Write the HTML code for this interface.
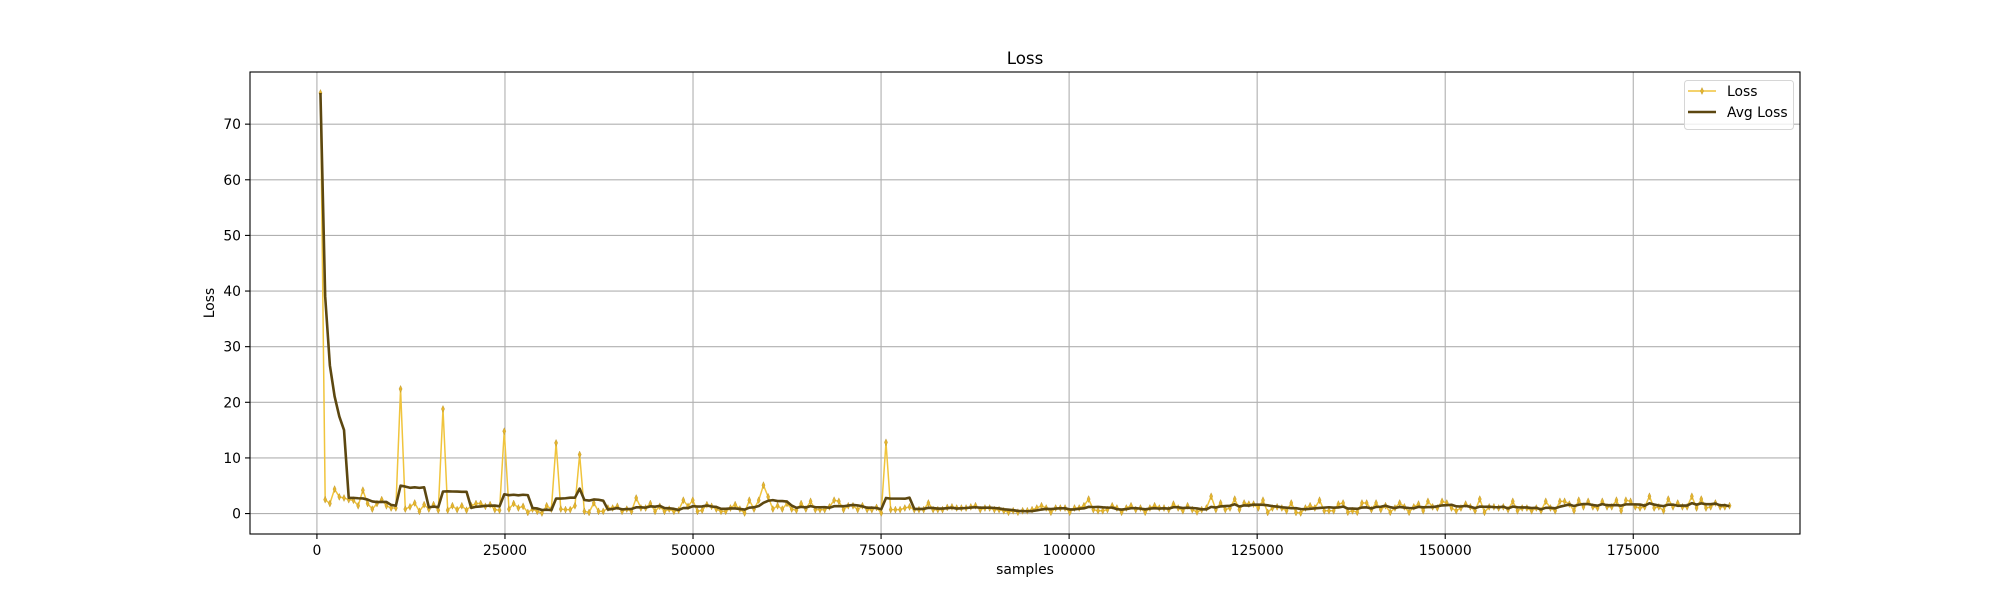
<!DOCTYPE html>
<html><head><meta charset="utf-8"><style>
html,body{margin:0;padding:0;background:#fff;}
svg{display:block;font-family:"DejaVu Sans","Liberation Sans",sans-serif;}
</style></head><body>
<svg id="chart" width="2000" height="600" viewBox="0 0 2000 600" xmlns="http://www.w3.org/2000/svg">
<rect width="2000" height="600" fill="#fff"/>
<g id="grid"></g>
<g id="series"></g>
<g id="axes"></g>
<text x="1025" y="64" font-size="16.7" text-anchor="middle" fill="#000">Loss</text>
<text x="1025" y="574" font-size="13.9" text-anchor="middle" fill="#000">samples</text>
<text transform="translate(214,303) rotate(-90)" font-size="13.9" text-anchor="middle" fill="#000">Loss</text>
<g>
<rect x="1684.5" y="80.5" width="109" height="49" rx="3" fill="#fff" fill-opacity="0.8" stroke="#d6d6d6" stroke-width="1"/>
<g>
<line x1="1688" y1="91" x2="1716" y2="91" stroke="#f0c43c" stroke-width="1.5"/>
<path d="M1702,87.5 L1703.6,91 L1702,94.5 L1700.4,91 Z" fill="#e6b52c" stroke="#b8922a" stroke-width="0.4"/>
<text x="1727" y="96" font-size="13.9" fill="#000">Loss</text>
</g>
<g>
<line x1="1688" y1="112" x2="1716" y2="112" stroke="#5c4710" stroke-width="2.5"/>
<text x="1727" y="117" font-size="13.9" fill="#000">Avg Loss</text>
</g>
</g>
</svg>
<script>
const loss = [75.6,2.5,1.8,4.4,3.0,2.8,2.5,2.4,1.4,4.2,1.8,0.8,1.8,2.5,1.4,1.0,1.0,22.4,0.8,1.2,1.9,0.4,1.6,0.8,1.6,0.6,18.8,0.6,1.4,0.7,1.4,0.6,1.4,1.8,1.8,1.3,1.6,0.7,0.6,14.8,0.8,1.8,1.0,1.3,0.2,0.8,0.4,0.1,1.4,0.8,12.7,0.8,0.7,0.7,1.4,10.6,0.4,0.2,1.9,0.4,0.4,1.0,1.0,1.3,0.4,0.8,0.4,2.8,1.0,1.0,1.8,0.4,1.3,0.4,0.8,0.4,0.6,2.4,1.3,2.4,0.4,0.6,1.6,1.3,0.8,0.4,0.4,1.0,1.6,0.8,0.1,2.4,0.8,2.4,5.1,3.0,0.8,1.4,0.8,1.8,0.8,0.6,1.8,0.8,
2.2,0.7,0.7,0.7,1.2,2.4,2.2,0.7,1.4,1.4,0.7,1.4,0.7,0.7,1.1,0.1,12.8,
0.7,0.7,0.7,1.0,1.2,0.7,0.7,0.7,1.9,0.7,0.7,0.7,1.1,1.2,1.0,1.0,1.0,1.2,1.4,0.7,1.0,1.0,0.7,0.7,0.5,0.24,0.5,0.24,0.5,0.5,0.7,1.0,1.4,1.0,0.24,1.0,1.0,1.0,0.24,1.0,1.0,1.4,2.6,0.7,0.5,0.5,0.7,1.4,1.0,0.24,1.0,1.4,0.7,1.0,0.24,1.0,1.4,1.0,1.0,0.7,1.7,1.0,0.5,1.4,0.7,0.3,0.7,1.0,3.1,0.7,1.9,0.7,1.0,2.6,0.7,1.9,1.7,1.7,1.0,2.4,0.2,1.0,1.2,1.0,0.5,1.9,0.2,
0.1,1.0,1.4,1.0,2.4,0.5,0.5,0.5,1.7,1.9,0.24,0.5,0.24,1.9,1.9,0.7,1.9,0.7,1.4,0.24,1.0,1.9,1.2,0.24,1.2,1.7,0.5,2.2,1.2,1.0,2.2,1.9,1.0,0.5,1.0,1.7,1.2,0.5,2.6,0.24,1.2,1.2,1.0,1.2,0.7,2.2,0.5,1.0,1.0,0.5,1.0,0.5,2.2,1.0,0.5,2.2,2.2,1.7,0.5,2.4,1.2,2.2,1.2,1.0,2.2,1.2,1.2,2.4,0.5,2.4,2.2,1.2,1.0,1.2,3.1,1.0,1.2,0.5,2.6,1.2,1.9,1.2,1.2,3.1,1.0,2.6,1.0,1.2,1.9,1.2,1.2,1.4];
const firstSample = 470;
const lastSample = 187800;
const avgWindow = 6;
const xTicks = [0,25000,50000,75000,100000,125000,150000,175000];
const yTicks = [0,10,20,30,40,50,60,70];

const NS = 'http://www.w3.org/2000/svg';
const L = 250, R = 1800, T = 72, B = 534;
const samples = loss.map((_, i) => firstSample + i * (lastSample - firstSample) / (loss.length - 1));
const avg = loss.map((_, i) => {
  const s = Math.max(0, i - avgWindow + 1);
  const w = loss.slice(s, i + 1);
  return w.reduce((a, b) => a + b, 0) / w.length;
});
const xmin0 = Math.min(...samples), xmax0 = Math.max(...samples);
const xm = (xmax0 - xmin0) * 0.05;
const xMin = xmin0 - xm, xMax = xmax0 + xm;
const all = loss.concat(avg);
const ymin0 = Math.min(...all), ymax0 = Math.max(...all);
const ym = (ymax0 - ymin0) * 0.05;
const yMin = ymin0 - ym, yMax = ymax0 + ym;
const sx = v => L + (v - xMin) / (xMax - xMin) * (R - L);
const sy = v => B - (v - yMin) / (yMax - yMin) * (B - T);

function mk(tag, attrs, parent) {
  const el = document.createElementNS(NS, tag);
  for (const k in attrs) el.setAttribute(k, attrs[k]);
  parent.appendChild(el);
  return el;
}
const grid = document.getElementById('grid');
const axes = document.getElementById('axes');
const series = document.getElementById('series');

xTicks.forEach(t => {
  const x = sx(t);
  const g = mk('line', {x1: x, x2: x, y1: T, y2: B, stroke: '#b0b0b0', 'stroke-width': 1.1}, grid);
  
  
  const tk = mk('line', {x1: x, x2: x, y1: B, y2: B + 5, stroke: '#000', 'stroke-width': 1.1}, axes);
  
  
  const tx = mk('text', {x: x, y: B + 21, 'font-size': 13.9, 'text-anchor': 'middle', fill: '#000'}, axes);
  tx.textContent = String(t);
  
  
});
yTicks.forEach(t => {
  const y = sy(t);
  const g = mk('line', {x1: L, x2: R, y1: y, y2: y, stroke: '#b0b0b0', 'stroke-width': 1.1}, grid);
  
  
  const tk = mk('line', {x1: L - 5, x2: L, y1: y, y2: y, stroke: '#000', 'stroke-width': 1.1}, axes);
  
  
  const tx = mk('text', {x: L - 9, y: y + 5, 'font-size': 13.9, 'text-anchor': 'end', fill: '#000'}, axes);
  tx.textContent = String(t);
  
  
});
const frame = mk('rect', {x: L, y: T, width: R - L, height: B - T, fill: 'none', stroke: '#000', 'stroke-width': 1.1}, axes);



const lossPts = samples.map((s, i) => sx(s).toFixed(2) + ',' + sy(loss[i]).toFixed(2)).join(' ');
const lossLine = mk('polyline', {points: lossPts, fill: 'none', stroke: '#f0c43c', 'stroke-width': 1.5, 'stroke-linejoin': 'round'}, series);


samples.forEach((s, i) => {
  const x = sx(s), y = sy(loss[i]);
  const m = mk('path', {d: `M${x},${y - 3.5}L${x + 1.6},${y}L${x},${y + 3.5}L${x - 1.6},${y}Z`, fill: '#e6b52c', stroke: '#b8922a', 'stroke-width': 0.4}, series);
  
  
});
const avgPts = samples.map((s, i) => sx(s).toFixed(2) + ',' + sy(avg[i]).toFixed(2)).join(' ');
const avgLine = mk('polyline', {points: avgPts, fill: 'none', stroke: '#5c4710', 'stroke-width': 2.6, 'stroke-linejoin': 'round'}, series);


</script>
</body></html>
